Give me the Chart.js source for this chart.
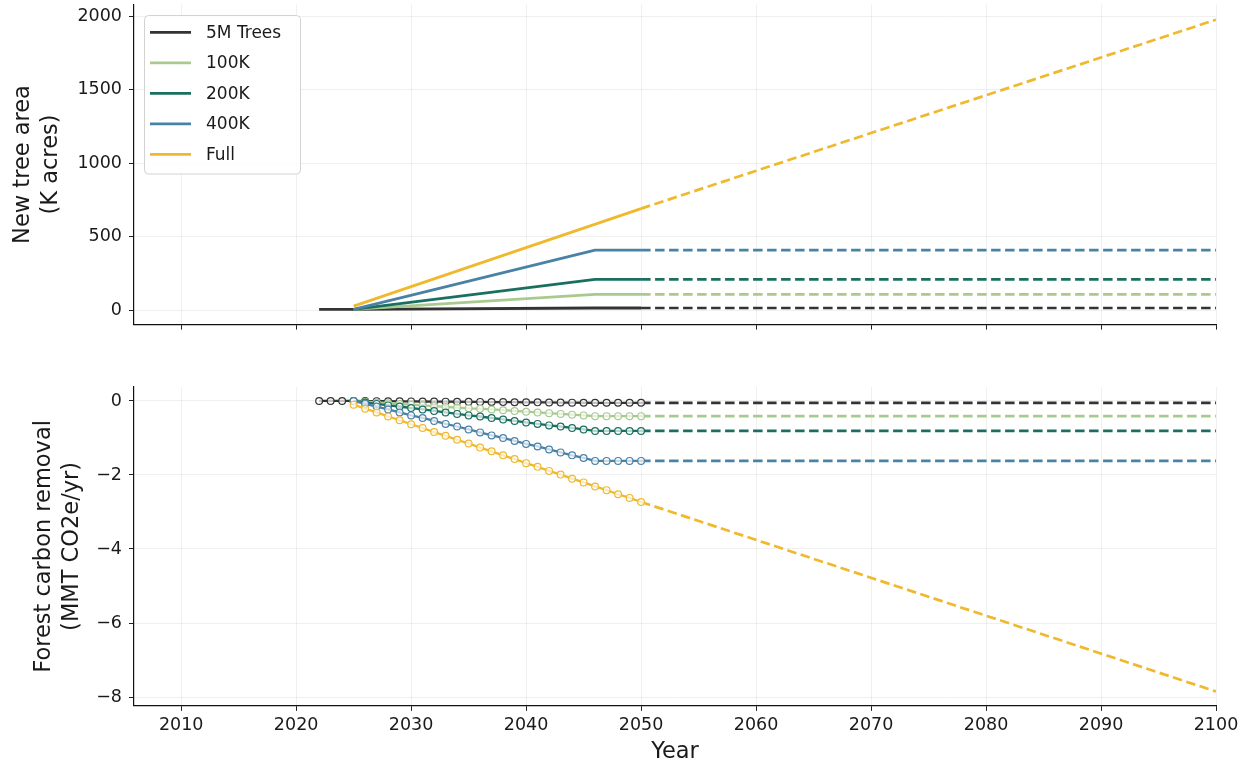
<!DOCTYPE html>
<html>
<head>
<meta charset="utf-8">
<script src="https://cdn.jsdelivr.net/npm/chart.js@4.4.1/dist/chart.umd.min.js"></script>
<style>
  html, body { margin: 0; padding: 0; background: #ffffff; width: 1250px; height: 770px; overflow: hidden; }
  #wrap { position: relative; width: 1250px; height: 770px; }
  canvas { position: absolute; left: 0; }
  #areaChart { top: 0; }
  #removalChart { top: 340px; }
</style>
</head>
<body>
<div id="wrap">
  <canvas id="areaChart" width="1250" height="340"></canvas>
  <canvas id="removalChart" width="1250" height="430"></canvas>
</div>
<script>
// ---- scenarios ----
const seriesNames = ['5M Trees', '100K', '200K', '400K', 'Full'];
const seriesColors = ['#333333', '#a9ca8f', '#1a7060', '#4a82a7', '#f0b92d'];

// ---- new tree area (K acres), planting period breakpoints ----
const areaYears5M = [2022, 2025, 2046, 2050];
const area5M = [4, 5, 14, 14];
const areaYears100K = [2025, 2046, 2050];
const area100K = [4, 106, 106];
const areaYears200K = [2025, 2046, 2050];
const area200K = [4, 208, 208];
const areaYears400K = [2025, 2046, 2050];
const area400K = [4, 408, 408];
const areaYearsFull = [2025, 2050];
const areaFull = [27, 690];

// ---- projections to 2100 (dashed) ----
const projYears = [2050, 2100];
const areaProj5M = [14, 14];
const areaProj100K = [106, 106];
const areaProj200K = [208, 208];
const areaProj400K = [408, 408];
const areaProjFull = [690, 1975];

// ---- forest carbon removal (MMT CO2e/yr), annual ----
const removalYears = [2022, 2023, 2024, 2025, 2026, 2027, 2028, 2029, 2030, 2031, 2032, 2033, 2034, 2035,
  2036, 2037, 2038, 2039, 2040, 2041, 2042, 2043, 2044, 2045, 2046, 2047, 2048, 2049, 2050];
const removal5M = [0, 0, 0, 0, -0.002, -0.005, -0.007, -0.01, -0.012, -0.014, -0.017, -0.019, -0.021, -0.024,
  -0.026, -0.029, -0.031, -0.033, -0.036, -0.038, -0.04, -0.043, -0.045, -0.048, -0.05, -0.05, -0.05, -0.05, -0.05];
const removal100K = [null, null, null, 0, -0.02, -0.04, -0.06, -0.08, -0.10, -0.12, -0.14, -0.16, -0.18, -0.20,
  -0.21, -0.23, -0.25, -0.27, -0.29, -0.31, -0.33, -0.35, -0.37, -0.39, -0.41, -0.41, -0.41, -0.41, -0.41];
const removal200K = [null, null, null, 0, -0.04, -0.08, -0.12, -0.15, -0.19, -0.23, -0.27, -0.31, -0.35, -0.39,
  -0.42, -0.46, -0.50, -0.54, -0.58, -0.62, -0.66, -0.69, -0.73, -0.77, -0.81, -0.81, -0.81, -0.81, -0.81];
const removal400K = [null, null, null, 0, -0.08, -0.15, -0.23, -0.31, -0.39, -0.46, -0.54, -0.62, -0.69, -0.77,
  -0.85, -0.93, -1.00, -1.08, -1.16, -1.23, -1.31, -1.39, -1.47, -1.54, -1.62, -1.62, -1.62, -1.62, -1.62];
const removalFull = [null, null, null, -0.10, -0.21, -0.31, -0.42, -0.52, -0.63, -0.73, -0.84, -0.94, -1.05, -1.15,
  -1.26, -1.36, -1.47, -1.57, -1.68, -1.78, -1.89, -1.99, -2.10, -2.20, -2.31, -2.41, -2.52, -2.62, -2.73];

const removalProj5M = [-0.05, -0.05];
const removalProj100K = [-0.41, -0.41];
const removalProj200K = [-0.81, -0.81];
const removalProj400K = [-1.62, -1.62];
const removalProjFull = [-2.73, -7.85];

// ---- ticks ----
const yearTicks = [2010, 2020, 2030, 2040, 2050, 2060, 2070, 2080, 2090, 2100];
const areaTicks = [0, 500, 1000, 1500, 2000];
const removalTicks = [-8, -6, -4, -2, 0];

// ---------------------------------------------------------------
const FONT = 'DejaVu Sans';
const TEXT = '#1a1a1a';

function pairs(xs, ys) {
  return xs.map((x, i) => ({ x: x, y: ys[i] })).filter(p => p.y !== null);
}

const areaSolid = [
  pairs(areaYears5M, area5M), pairs(areaYears100K, area100K), pairs(areaYears200K, area200K),
  pairs(areaYears400K, area400K), pairs(areaYearsFull, areaFull)
];
const areaProj = [areaProj5M, areaProj100K, areaProj200K, areaProj400K, areaProjFull].map(v => pairs(projYears, v));
const removalSolid = [removal5M, removal100K, removal200K, removal400K, removalFull].map(v => pairs(removalYears, v));
const removalProj = [removalProj5M, removalProj100K, removalProj200K, removalProj400K, removalProjFull].map(v => pairs(projYears, v));

function lineSets(solid, proj, withMarkers, solidWidth) {
  const sets = [];
  seriesNames.forEach((name, i) => {
    sets.push({
      label: name,
      data: solid[i],
      borderColor: seriesColors[i],
      borderWidth: solidWidth,
      pointRadius: withMarkers ? 3.4 : 0,
      pointBorderWidth: 1.2,
      pointBorderColor: seriesColors[i],
      pointBackgroundColor: 'rgba(255,255,255,0.7)',
      tension: 0,
      order: 4 - i
    });
    sets.push({
      label: name + ' (projection)',
      data: proj[i],
      borderColor: seriesColors[i],
      borderWidth: 2.7,
      borderDash: [9.5, 4.5],
      pointRadius: 0,
      tension: 0,
      order: 4 - i
    });
  });
  return sets;
}

function fmt(v) {
  return v < 0 ? '\u2212' + Math.abs(v) : String(v);
}

function xAxis(showLabels, axisHeight) {
  return {
    type: 'linear',
    min: 2005.9,
    max: 2100,
    afterBuildTicks: s => { s.ticks = yearTicks.map(v => ({ value: v })); },
    afterFit: s => { s.height = axisHeight; s.paddingLeft = 0; s.paddingRight = 0; },
    ticks: {
      callback: v => String(v),
      color: showLabels ? TEXT : 'rgba(0,0,0,0)',
      font: { family: FONT, size: 17.5 },
      padding: 4,
      maxRotation: 0,
      autoSkip: false
    },
    grid: { color: 'rgba(0,0,0,0.06)', lineWidth: 1, tickColor: '#222', tickLength: 5, drawTicks: true },
    border: { display: true, color: '#111', width: 1.2 },
    title: showLabels ? {
      display: true, text: 'Year', color: TEXT,
      font: { family: FONT, size: 22.5, lineHeight: 1.2 },
      padding: { top: 0, bottom: 4 }
    } : { display: false }
  };
}

function yAxis(min, max, tickVals, titleLines, titlePad) {
  return {
    type: 'linear',
    min: min,
    max: max,
    afterBuildTicks: s => { s.ticks = tickVals.map(v => ({ value: v })); },
    afterFit: s => { s.width = 134; s.paddingTop = 0; s.paddingBottom = 0; },
    ticks: {
      callback: v => fmt(v),
      color: TEXT,
      font: { family: FONT, size: 17.5 },
      padding: 7
    },
    grid: { color: 'rgba(0,0,0,0.06)', lineWidth: 1, tickColor: '#222', tickLength: 5, drawTicks: true },
    border: { display: true, color: '#111', width: 1.2 },
    title: {
      display: true, text: titleLines, color: TEXT,
      font: { family: FONT, size: 22.5, lineHeight: 1.25 },
      padding: { top: titlePad, bottom: 0 }
    }
  };
}

// legend drawn in the upper-left corner of the area panel
const legendBox = {
  id: 'legendBox',
  afterDraw(chart) {
    const ctx = chart.ctx;
    ctx.save();
    const x0 = 144.5, y0 = 15.5, w = 156, h = 158.5, r = 4;
    ctx.beginPath();
    ctx.moveTo(x0 + r, y0);
    ctx.lineTo(x0 + w - r, y0);
    ctx.arcTo(x0 + w, y0, x0 + w, y0 + r, r);
    ctx.lineTo(x0 + w, y0 + h - r);
    ctx.arcTo(x0 + w, y0 + h, x0 + w - r, y0 + h, r);
    ctx.lineTo(x0 + r, y0 + h);
    ctx.arcTo(x0, y0 + h, x0, y0 + h - r, r);
    ctx.lineTo(x0, y0 + r);
    ctx.arcTo(x0, y0, x0 + r, y0, r);
    ctx.closePath();
    ctx.fillStyle = 'rgba(255,255,255,0.85)';
    ctx.fill();
    ctx.strokeStyle = '#d2d2d2';
    ctx.lineWidth = 1;
    ctx.stroke();
    ctx.font = '17px "' + FONT + '"';
    ctx.textBaseline = 'middle';
    ctx.textAlign = 'left';
    seriesNames.forEach((name, i) => {
      const y = 32.3 + i * 30.5;
      ctx.beginPath();
      ctx.moveTo(150, y);
      ctx.lineTo(191, y);
      ctx.strokeStyle = seriesColors[i];
      ctx.lineWidth = 2.7;
      ctx.stroke();
      ctx.fillStyle = TEXT;
      ctx.fillText(name, 206, y + 1);
    });
    ctx.restore();
  }
};

const common = {
  responsive: false,
  animation: false,
  devicePixelRatio: 1,
  plugins: { legend: { display: false }, tooltip: { enabled: false } },
  elements: { line: { borderCapStyle: 'butt', borderJoinStyle: 'round' } }
};

new Chart(document.getElementById('areaChart'), {
  type: 'line',
  data: { datasets: lineSets(areaSolid, areaProj, false, 2.8) },
  options: Object.assign({}, common, {
    layout: { padding: { left: 0, right: 34, top: 4.4, bottom: 0 } },
    scales: {
      x: xAxis(false, 15.4),
      y: yAxis(-99, 2079, areaTicks, ['New tree area', '(K acres)'], 9)
    }
  }),
  plugins: [legendBox]
});

new Chart(document.getElementById('removalChart'), {
  type: 'line',
  data: { datasets: lineSets(removalSolid, removalProj, true, 2.3) },
  options: Object.assign({}, common, {
    layout: { padding: { left: 0, right: 34, top: 46.9, bottom: 0 } },
    scales: {
      x: xAxis(true, 64.1),
      y: yAxis(-8.24, 0.38, removalTicks, ['Forest carbon removal', '(MMT CO2e/yr)'], 30)
    }
  })
});
</script>
</body>
</html>
